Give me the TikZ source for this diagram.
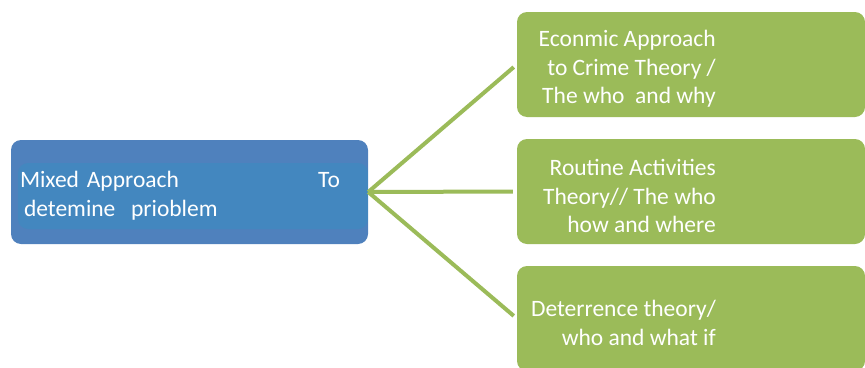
\documentclass[tikz,border=0pt]{standalone}
\usepackage{fontspec}
\setmainfont{Carlito}
\definecolor{mixblue}{HTML}{4F81BD}
\definecolor{bandblue}{HTML}{4387BF}
\definecolor{theorygreen}{HTML}{9BBB59}

\begin{document}
\begin{tikzpicture}[
                x=1pt,
                y=-1pt,
                every node/.style={
                  inner sep=0pt,
                  text=white,
                  font=\fontsize{23.5}{28.5}\selectfont,
                },
                mixbox/.style={
                  fill=mixblue,
                  rounded corners=10pt,
                  minimum width=357pt,
                  minimum height=104pt,
                  inner xsep=9pt,
                  text width=339pt,
                  align=left,
                  path picture={
                    \fill[bandblue] ([xshift=7pt,yshift=29pt]path picture bounding box.west)
                      rectangle ([yshift=-37pt]path picture bounding box.east);
                  },
                },
                theorybox/.style={
                  fill=theorygreen,
                  rounded corners=10pt,
                  minimum width=348pt,
                  minimum height=105pt,
                },
                theorytext/.style={anchor=east, align=right},
                link/.style={draw=theorygreen, line width=4pt, shorten >=4pt},
              ]
              \useasboundingbox (0,0) rectangle (865,367);
              \clip (0,0) rectangle (865,367);
              \node[mixbox] (mixed) at (189.5,192)
                {\rule{0pt}{24pt}Mixed Approach\hfill To\rule{19pt}{0pt}\\\hspace*{4pt}detemine\ \ prioblem} ;
              \node[theorybox] (econ) at (691,64.5) {} ;
              \node[theorybox] (routine) at (691,191.5) {} ;
              \node[theorybox] (deter) at (691,318.5) {} ;
              \node[theorytext] (econtext) at (716,69)
                {Econmic Approach\\to Crime Theory /\\The who\ \ and why} ;
              \node[theorytext] (routinetext) at (716,196)
                {Routine Activities\\Theory// The who\\how and where} ;
              \node[theorytext] (detertext) at (716,323)
                {Deterrence theory/\\who and what if} ;
              \draw[link] (mixed.east)--(econ.west) ;
              \draw[link] (mixed.east)--(routine.west) ;
              \draw[link] (mixed.east)--(deter.west) ;
              \end{tikzpicture}
\end{document}
